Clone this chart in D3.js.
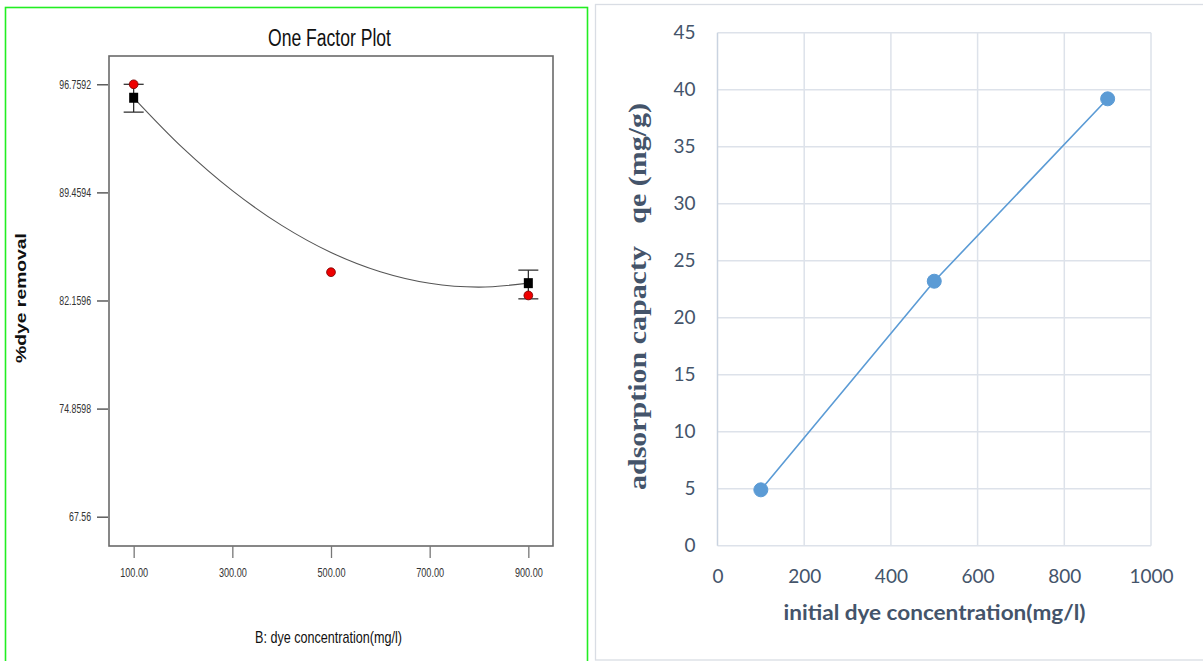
<!DOCTYPE html>
<html><head><meta charset="utf-8">
<script src="https://cdn.jsdelivr.net/npm/d3@7"></script>
<style>body{margin:0;background:#fff}svg{display:block}</style>
</head><body><svg id="c" width="1203" height="661"></svg>
<script>
// ---------- Left chart data (One Factor Plot) ----------
const actualConc = [100, 500, 900];
const actualRemoval = [96.76, 84.07, 82.50];
const meanConc = [100, 900];
const meanRemoval = [95.85, 83.33];
const meanLow = [94.88, 82.27];
const meanHigh = [96.76, 84.21];
const fitConc = [100, 200, 300, 400, 500, 600, 700, 800, 900];
const fitRemoval = [95.85, 92.45, 89.58, 87.23, 85.40, 84.10, 83.32, 83.06, 83.33];
const leftYTicks = [67.56, 74.8598, 82.1596, 89.4594, 96.7592];
const leftYTickLabels = ["67.56", "74.8598", "82.1596", "89.4594", "96.7592"];
const leftXTicks = [100, 300, 500, 700, 900];
const leftXTickLabels = ["100.00", "300.00", "500.00", "700.00", "900.00"];

// ---------- Right chart data ----------
const initConc = [100, 500, 900];
const qeValues = [4.9, 23.2, 39.2];
const rightXTicks = [0, 200, 400, 600, 800, 1000];
const rightYTicks = [0, 5, 10, 15, 20, 25, 30, 35, 40, 45];

const svg = d3.select("#c");
const arial = "'Liberation Sans',Arial,sans-serif";
function condense(sel, f) {
  sel.each(function () {
    const w = this.getComputedTextLength();
    d3.select(this).attr("textLength", w * f).attr("lengthAdjust", "spacingAndGlyphs");
  });
}

// ================= LEFT PANEL =================
svg.append("rect").attr("x", 5.5).attr("y", 7.5).attr("width", 582).attr("height", 665)
  .attr("fill", "none").attr("stroke", "#22ee22").attr("stroke-width", 1.6);

const lx = d3.scaleLinear().domain([50, 950]).range([109, 553]);
const ly = d3.scaleLinear().domain([65.58, 98.67]).range([546, 56]);

const L = svg.append("g");
L.append("rect").attr("x", 109).attr("y", 56).attr("width", 444).attr("height", 490)
  .attr("fill", "none").attr("stroke", "#6a6a6a").attr("stroke-width", 1.6);

const yAx = L.append("g").attr("transform", "translate(108,0)")
  .call(d3.axisLeft(ly).tickValues(leftYTicks).tickFormat((d, i) => leftYTickLabels[i]).tickSize(11).tickPadding(6));
yAx.select(".domain").remove();
yAx.selectAll("line").attr("stroke", "#444").attr("stroke-width", 1.3);
yAx.selectAll("text").attr("font-family", arial).attr("font-size", 12.5).attr("fill", "#333").call(condense, 0.7);

const xAx = L.append("g").attr("transform", "translate(0,546)")
  .call(d3.axisBottom(lx).tickValues(leftXTicks).tickFormat((d, i) => leftXTickLabels[i]).tickSize(12).tickPadding(10));
xAx.select(".domain").remove();
xAx.selectAll("line").attr("stroke", "#777").attr("stroke-width", 1.3);
xAx.selectAll("text").attr("font-family", arial).attr("font-size", 12.5).attr("fill", "#333").call(condense, 0.73);

L.append("text").attr("x", 329.5).attr("y", 46).attr("text-anchor", "middle")
  .attr("font-family", arial).attr("font-size", 23).attr("fill", "#111")
  .attr("textLength", 123).attr("lengthAdjust", "spacingAndGlyphs").text("One Factor Plot");
L.append("text").attr("x", 328.5).attr("y", 643).attr("text-anchor", "middle")
  .attr("font-family", arial).attr("font-size", 17).attr("fill", "#111")
  .attr("textLength", 147).attr("lengthAdjust", "spacingAndGlyphs").text("B: dye concentration(mg/l)");
L.append("text").attr("transform", "translate(26,298) rotate(-90)").attr("text-anchor", "middle")
  .attr("font-family", arial).attr("font-weight", "bold")
  .attr("font-size", 14).attr("fill", "#111")
  .attr("textLength", 130).attr("lengthAdjust", "spacingAndGlyphs").text("%dye removal");

// fitted curve
const fitData = fitConc.map((c, i) => [c, fitRemoval[i]]);
L.append("path").datum(fitData)
  .attr("d", d3.line().x(d => lx(d[0])).y(d => ly(d[1])).curve(d3.curveCatmullRom))
  .attr("fill", "none").attr("stroke", "#555").attr("stroke-width", 1.1);

// error bars
meanConc.forEach((c, i) => {
  const cx = lx(c);
  const g = L.append("g").attr("stroke", "#222").attr("stroke-width", 1.2);
  g.append("line").attr("x1", cx).attr("x2", cx).attr("y1", ly(meanHigh[i])).attr("y2", ly(meanLow[i]));
  g.append("line").attr("x1", cx - 10).attr("x2", cx + 10).attr("y1", ly(meanHigh[i])).attr("y2", ly(meanHigh[i]));
  g.append("line").attr("x1", cx - 10).attr("x2", cx + 10).attr("y1", ly(meanLow[i])).attr("y2", ly(meanLow[i]));
});
// mean squares
L.selectAll("rect.sq").data(meanConc.map((c, i) => [c, meanRemoval[i]])).enter().append("rect")
  .attr("class", "sq").attr("x", d => lx(d[0]) - 4.5).attr("y", d => ly(d[1]) - 5)
  .attr("width", 9).attr("height", 10).attr("fill", "#000");
// actual red points
L.selectAll("circle.act").data(actualConc.map((c, i) => [c, actualRemoval[i]])).enter().append("circle")
  .attr("class", "act").attr("cx", d => lx(d[0])).attr("cy", d => ly(d[1])).attr("r", 4.4)
  .attr("fill", "#ee0000").attr("stroke", "#700").attr("stroke-width", 0.8);

// ================= RIGHT PANEL =================
svg.append("rect").attr("x", 595.5).attr("y", 4.5).attr("width", 620).attr("height", 655.5)
  .attr("fill", "none").attr("stroke", "#d9dde4").attr("stroke-width", 1.3);

const rx = d3.scaleLinear().domain([0, 1000]).range([717.5, 1151]);
const ry = d3.scaleLinear().domain([0, 45]).range([545.7, 32.7]);
const R = svg.append("g");
const txt = "#44546a";
const sans = "Lato,'Open Sans',sans-serif";

R.append("g").selectAll("line.h").data(rightYTicks).enter().append("line")
  .attr("x1", rx(0)).attr("x2", rx(1000)).attr("y1", d => ry(d)).attr("y2", d => ry(d))
  .attr("stroke", "#dde2ea").attr("stroke-width", 1.5);
R.append("g").selectAll("line.v").data(rightXTicks).enter().append("line")
  .attr("y1", ry(0)).attr("y2", ry(45)).attr("x1", d => rx(d)).attr("x2", d => rx(d))
  .attr("stroke", d => d === 0 ? "#c9d3e0" : "#dde2ea").attr("stroke-width", 1.5);

const ryAx = R.append("g").attr("transform", `translate(${rx(0)},0)`)
  .call(d3.axisLeft(ry).tickValues(rightYTicks).tickFormat(d3.format("d")).tickSize(0).tickPadding(22));
ryAx.select(".domain").remove();
ryAx.selectAll("text").attr("font-family", sans).attr("font-size", 19).attr("fill", txt);

const rxAx = R.append("g").attr("transform", `translate(0,${ry(0)})`)
  .call(d3.axisBottom(rx).tickValues(rightXTicks).tickFormat(d3.format("d")).tickSize(0).tickPadding(24));
rxAx.select(".domain").remove();
rxAx.selectAll("text").attr("font-family", sans).attr("font-size", 19).attr("fill", txt);

R.append("text").attr("x", 934.5).attr("y", 620).attr("text-anchor", "middle")
  .attr("font-family", sans).attr("font-weight", "bold").attr("font-size", 20).attr("fill", txt)
  .attr("textLength", 302).attr("lengthAdjust", "spacingAndGlyphs")
  .text("initial dye concentration(mg/l)");
R.append("text").attr("transform", "translate(646,296.5) rotate(-90)").attr("text-anchor", "middle")
  .attr("font-family", "'Liberation Serif','Times New Roman',serif").attr("font-weight", "bold")
  .attr("font-size", 26).attr("fill", txt).style("white-space", "pre")
  .attr("textLength", 387).attr("lengthAdjust", "spacingAndGlyphs")
  .text("adsorption capacty   qe (mg/g)");

const rData = initConc.map((c, i) => [c, qeValues[i]]);
R.append("path").datum(rData)
  .attr("d", d3.line().x(d => rx(d[0])).y(d => ry(d[1])))
  .attr("fill", "none").attr("stroke", "#5b9bd5").attr("stroke-width", 1.6);
R.selectAll("circle").data(rData).enter().append("circle")
  .attr("cx", d => rx(d[0])).attr("cy", d => ry(d[1])).attr("r", 7)
  .attr("fill", "#5b9bd5").attr("stroke", "#5b9bd5").attr("stroke-width", 1);
</script></body></html>
